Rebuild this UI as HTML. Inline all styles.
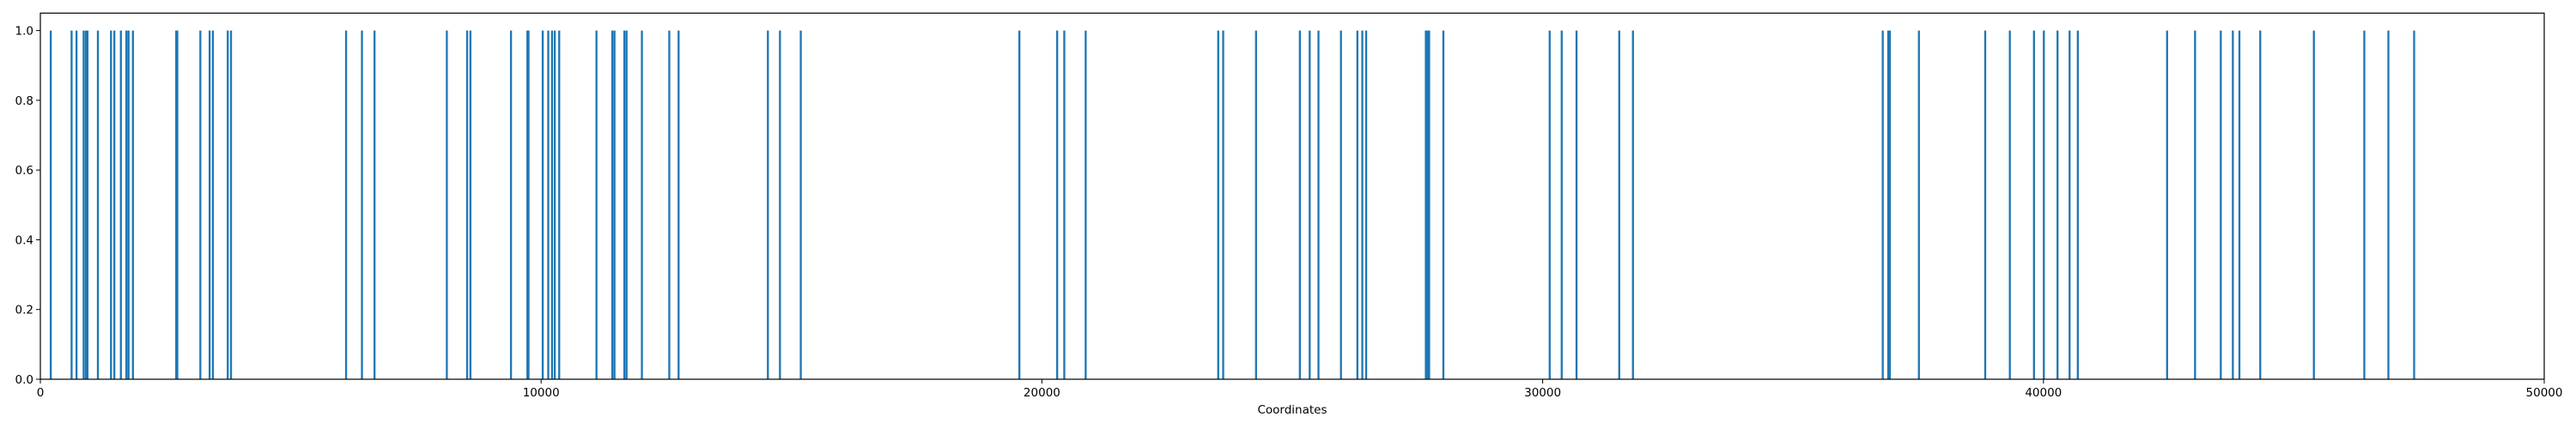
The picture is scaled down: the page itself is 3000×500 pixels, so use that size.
<!DOCTYPE html>
<html><head><meta charset="utf-8"><style>
html,body{margin:0;padding:0;background:#fff;}
svg{display:block;font-family:"DejaVu Sans","Liberation Sans",sans-serif;}
</style></head><body>
<svg id="chart" width="3000" height="500" viewBox="0 0 3000 500">
<g id="bars"></g>
<g id="axes"></g>
</svg>
<script>
const coords = [208,624,722,864,908,941,1149,1411,1477,1608,1718,1761,1849,2713,2735,3195,3380,3446,3742,3807,6105,6422,6673,8117,8522,8588,9398,9726,9748,10032,10142,10218,10273,10361,11105,11422,11465,11662,11706,12012,12559,12745,14528,14769,15185,19550,20305,20447,20874,23521,23620,24276,25151,25348,25523,25972,26300,26398,26475,27667,27700,27733,28017,30140,30380,30676,31529,31803,36791,36900,36933,37513,38837,39329,39811,40008,40281,40522,40686,42469,43027,43541,43782,43913,44329,45400,46407,46888,47402];
const heights = coords.map(() => 1);
const xTicks = [0,10000,20000,30000,40000,50000];
const yTicks = [0.0,0.2,0.4,0.6,0.8,1.0];
const xLabel = "Coordinates";

const L=47, R=2963, T=15.3, B=442;
const xMin=0, xMax=50000, yMin=0, yMax=1.05, barW=40;
const sx = v => L + (v-xMin)/(xMax-xMin)*(R-L);
const sy = v => B - (v-yMin)/(yMax-yMin)*(B-T);
const NS="http://www.w3.org/2000/svg";
const bars=document.getElementById('bars'), axes=document.getElementById('axes');
function mk(tag, attrs, parent){const e=document.createElementNS(NS,tag);for(const k in attrs)e.setAttribute(k,attrs[k]);parent.appendChild(e);return e;}

coords.forEach((c,i)=>{
  const x0=sx(c-barW/2), x1=sx(c+barW/2);
  const r=mk('rect',{x:x0,y:sy(heights[i]),width:Math.max(x1-x0,1.5),height:sy(0)-sy(heights[i]),fill:'#1f77b4'},bars);
  
  
});

const frame=mk('rect',{x:L,y:T,width:R-L,height:B-T,fill:'none',stroke:'#000','stroke-width':1.2},axes);



xTicks.forEach(t=>{
  const x=sx(t);
  const tk=mk('line',{x1:x,x2:x,y1:B,y2:B+5,stroke:'#000','stroke-width':1},axes);
  
  
  const tx=mk('text',{x:x,y:B+20,'text-anchor':'middle','font-size':13.5,fill:'#000'},axes);
  tx.textContent=String(t);
  
  
});
yTicks.forEach(t=>{
  const y=sy(t);
  const tk=mk('line',{x1:L-5,x2:L,y1:y,y2:y,stroke:'#000','stroke-width':1},axes);
  
  
  const tx=mk('text',{x:L-8,y:y+5,'text-anchor':'end','font-size':13.5,fill:'#000'},axes);
  tx.textContent=t.toFixed(1);
  
  
});
const xl=mk('text',{x:(L+R)/2,y:482,'text-anchor':'middle','font-size':13.5,fill:'#000'},axes);
xl.textContent=xLabel;


</script>
</body></html>
